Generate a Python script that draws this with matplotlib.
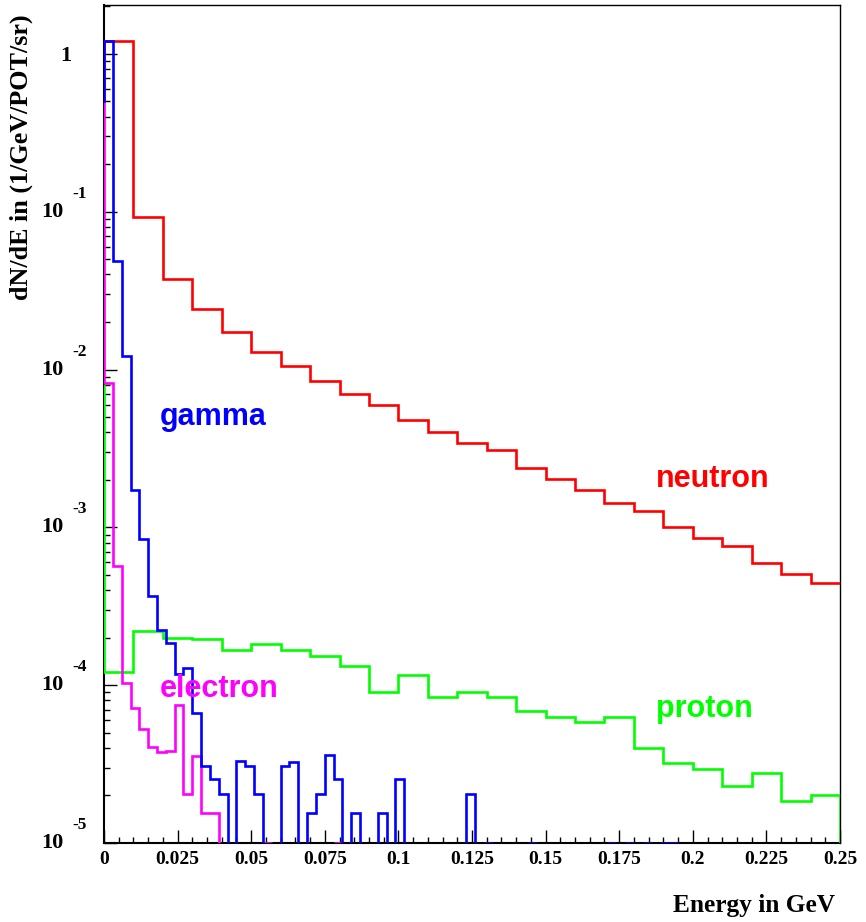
import numpy as np
import matplotlib
matplotlib.use("Agg")
import matplotlib.pyplot as plt
from matplotlib.ticker import FixedLocator, FuncFormatter, LogLocator, NullFormatter
from matplotlib.transforms import offset_copy

# neutron / proton: 0.01 GeV bins; gamma / electron: 0.003 GeV bins
neutron = [1.21, 0.093, 0.0375, 0.0241, 0.0174, 0.0129, 0.0106, 0.0085, 0.00703, 0.00594,
           0.0048, 0.00402, 0.00343, 0.00309, 0.00238, 0.00202, 0.00173, 0.00142, 0.00127, 0.001,
           0.000853, 0.000759, 0.000592, 0.000507, 0.000447]
# first entry is the bin just below 0
proton = [0.0079,
          1.21e-4, 2.21e-4, 2.0e-4, 1.96e-4, 1.66e-4, 1.82e-4, 1.67e-4, 1.53e-4, 1.32e-4, 9.06e-5,
          1.16e-4, 8.4e-5, 9.06e-5, 8.4e-5, 6.87e-5, 6.3e-5, 5.8e-5, 6.3e-5, 4.02e-5, 3.23e-5,
          2.93e-5, 2.31e-5, 2.78e-5, 1.85e-5, 2.0e-5]
gamma = [0.5,
         1.21, 0.0488, 0.01225, 0.00173, 0.000845, 0.000369, 2.24e-4, 1.84e-4, 1.17e-4, 1.28e-4,
         6.64e-5, 3.09e-5, 2.55e-5, 2.05e-5, 0, 3.32e-5, 3.09e-5, 2.05e-5, 0, 0,
         3.09e-5, 3.26e-5, 0, 1.54e-5, 2.05e-5, 3.61e-5, 2.55e-5, 0, 1.54e-5, 0,
         0, 1.54e-5, 0, 2.55e-5, 0, 0, 0, 0, 0, 0,
         0, 2.05e-5, 0, 8e-6, 0, 0, 0, 0, 8e-6, 0,
         0, 0, 0, 0, 0, 0, 0, 8e-6, 0, 8e-6,
         0, 8e-6, 0, 8e-6, 8e-6]
electron = [1.2,
            0.00818, 5.72e-4, 1.03e-4, 7.14e-5, 5.26e-5, 4.08e-5, 3.76e-5, 3.8e-5, 7.5e-5, 2.05e-5,
            3.57e-5, 1.56e-5, 1.56e-5, 0, 0, 0, 0, 0, 8e-6, 0,
            0, 0, 0, 0, 0, 0, 8e-6]

decades = [0, -1, -2, -3, -4, -5]

coarse_w = 0.01
fine_w = 0.003
ymin, ymax = 1e-5, 2.04

fig = plt.figure(figsize=(8.66, 9.22), dpi=100)
ax = fig.add_axes([0.1201, 0.0857, 0.8499, 0.9089])
ax.set_yscale('log')


def draw_hist(vals, width, start, color, base=ymin):
    vals = np.array(vals, dtype=float)
    # empty bins break the line, tiny ones sit on the frame bottom
    vals = np.where(vals > 0, np.clip(vals, ymin, None), np.nan)
    edges = start + width * np.arange(len(vals) + 1)
    ax.stairs(vals, edges, baseline=base, color=color, lw=1.9, zorder=3)


draw_hist(neutron, coarse_w, 0.0, '#ff0000', base=None)
draw_hist(proton, coarse_w, -coarse_w, '#00ff00')
draw_hist(electron, fine_w, -fine_w, '#ff00ff')
draw_hist(gamma, fine_w, -fine_w, '#0000ff')

ax.set_xlim(0, 0.25)
ax.set_ylim(ymin, ymax)

xticks = np.arange(0, 0.2501, 0.025)
ax.xaxis.set_major_locator(FixedLocator(xticks))
ax.xaxis.set_minor_locator(FixedLocator(np.arange(0, 0.2501, 0.005)))
ax.xaxis.set_major_formatter(FuncFormatter(lambda v, p: ('%g' % round(v, 3))))

ax.yaxis.set_major_locator(FixedLocator([10.0 ** e for e in decades]))
ax.yaxis.set_minor_locator(LogLocator(base=10, subs=np.arange(2, 10), numticks=20))
ax.yaxis.set_major_formatter(NullFormatter())
ax.yaxis.set_minor_formatter(NullFormatter())

ax.tick_params(which='both', direction='in', top=False, right=False, width=1.0)
ax.tick_params(which='major', length=9.5)
ax.tick_params(which='minor', length=4.5)
ax.tick_params(axis='x', which='major', labelsize=14, pad=6)
for lab in ax.get_xticklabels():
    lab.set_fontfamily('Liberation Serif')
    lab.set_fontweight('bold')

for side in ['left', 'bottom']:
    ax.spines[side].set_linewidth(1.5)
for side in ['top', 'right']:
    ax.spines[side].set_linewidth(1.0)

serif = dict(family='Liberation Serif', weight='bold')

# ROOT-style y labels: "10" with a raised exponent
ytrans = ax.get_yaxis_transform()
exp_trans = offset_copy(ytrans, fig=fig, y=14, units='dots')
one_trans = offset_copy(ytrans, fig=fig, y=-2, units='dots')
for e in decades:
    if e == 0:
        ax.text(-0.0517, 1.0, '1', transform=one_trans, ha='center', va='center',
                fontsize=16, **serif)
    else:
        ax.text(-0.0707, 10.0 ** e, '10', transform=ytrans, ha='center', va='center',
                fontsize=16, **serif)
        ax.text(-0.0435, 10.0 ** e, '%d' % e, transform=exp_trans, ha='left',
                va='baseline', fontsize=12.5, **serif)

fig.text(0.025, 0.984, 'dN/dE in (1/GeV/POT/sr)', rotation=90, ha='center', va='top',
         fontsize=18.8, **serif)
fig.text(0.964, 0.018, 'Energy in GeV', ha='right', va='center', fontsize=18.3, **serif)

sans = dict(family='Liberation Sans', weight='bold', fontsize=22)
ax.text(0.019, 4.46e-3, 'gamma', color='#0000ff', va='baseline', **sans)
ax.text(0.1875, 1.80e-3, 'neutron', color='#ff0000', va='baseline', **sans)
ax.text(0.019, 8.42e-5, 'electron', color='#ff00ff', va='baseline', **sans)
ax.text(0.1875, 6.29e-5, 'proton', color='#00ff00', va='baseline', **sans)

fig.savefig('out.png', dpi=100)
